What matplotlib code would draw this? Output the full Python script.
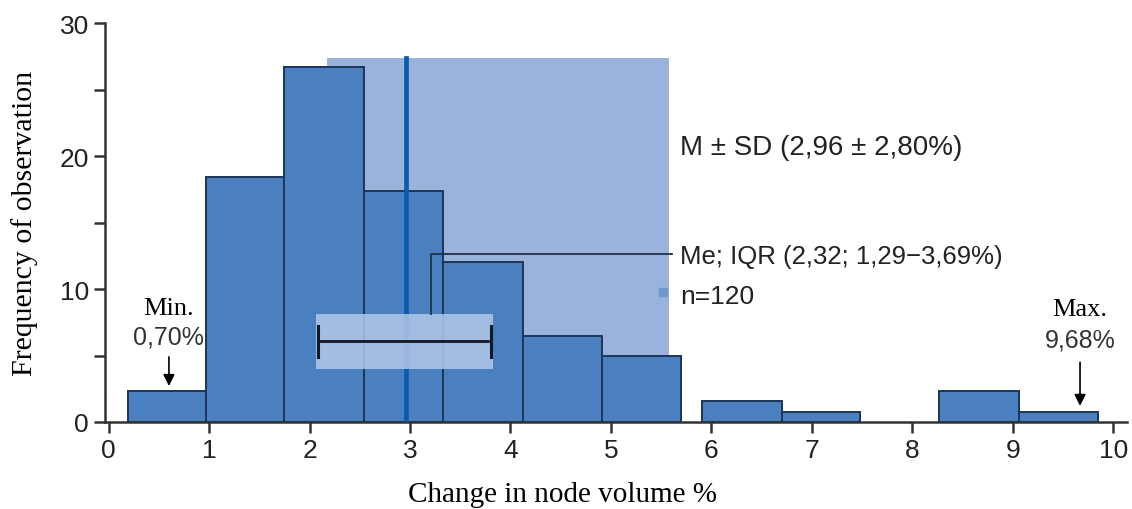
import matplotlib.pyplot as plt
from matplotlib.patches import Rectangle

# histogram bins
bin_left = [0.19, 0.97, 1.75, 2.54, 3.33, 4.12, 4.91, 5.91, 6.70, 8.27, 9.06]
bin_right = [0.97, 1.75, 2.54, 3.33, 4.12, 4.91, 5.70, 6.70, 7.48, 9.06, 9.85]
freq = [2.3, 18.4, 26.7, 17.4, 12.0, 6.5, 5.0, 1.6, 0.75, 2.3, 0.75]

mean_val = 2.96
sd_box = [2.17, 5.58, 27.4]      # left, right, top of the shaded M +- SD area
iqr_box = [2.06, 3.83, 4.0, 8.1]  # left, right, bottom, top
whisker_y = 6.1
min_val = 0.60
max_val = 9.67

xticks = [0, 1, 2, 3, 4, 5, 6, 7, 8, 9, 10]
yticks = [0, 10, 20, 30]

sans = ['Liberation Sans Narrow', 'Liberation Sans', 'DejaVu Sans']
serif = ['Liberation Serif', 'DejaVu Serif']

bar_col = '#4a80c0'
edge_col = '#1c3558'
sd_col = '#9bb3da'
iqr_col = '#b3c7e8'
mean_col = '#0b5cad'

fig = plt.figure(figsize=(11.32, 5.10), dpi=100)
ax = fig.add_axes([0.0928, 0.1706, 0.903, 0.782])

ax.add_patch(Rectangle((sd_box[0], 0), sd_box[1] - sd_box[0], sd_box[2],
                       facecolor=sd_col, edgecolor='none', zorder=1))

widths = [r - l for l, r in zip(bin_left, bin_right)]
ax.bar(bin_left, freq, width=widths, align='edge', color=bar_col,
       edgecolor=edge_col, linewidth=1.4, zorder=2)

ax.plot([mean_val, mean_val], [0, sd_box[2]], color=mean_col, lw=3.4, zorder=3)

ax.add_patch(Rectangle((iqr_box[0], iqr_box[2]), iqr_box[1] - iqr_box[0],
                       iqr_box[3] - iqr_box[2], facecolor=iqr_col, alpha=0.85,
                       edgecolor='none', zorder=4))
ax.plot([iqr_box[0] + 0.02, iqr_box[1] - 0.02], [whisker_y, whisker_y],
        color='#111827', lw=2, zorder=5)
for xc in [iqr_box[0] + 0.02, iqr_box[1] - 0.02]:
    ax.plot([xc, xc], [4.9, 7.2], color='#111827', lw=2.2, zorder=5)

# leader line to the Me; IQR label
ax.plot([3.21, 3.21, 5.61], [iqr_box[3], 12.6, 12.6], color='#1f2f4a',
        lw=1.3, zorder=5)

ax.text(5.69, 20.7, 'M ± SD (2,96 ± 2,80%)', fontsize=20, family=sans,
        va='center', ha='left', color='#222222')
ax.text(5.69, 12.5, 'Me; IQR (2,32; 1,29\u22123,69%)', fontsize=18.5, family=sans,
        va='center', ha='left', color='#222222')
ax.plot([5.52], [9.8], marker='s', ms=6, color='#6f98cf', zorder=5)
ax.text(5.69, 9.5, 'n=120', fontsize=19, family=sans, va='center', ha='left',
        color='#222222')

# min / max annotations
ax.text(min_val, 8.6, 'Min.', fontsize=19, family=serif, ha='center', va='center')
ax.text(min_val, 6.4, '0,70%', fontsize=18, family=sans, ha='center', va='center',
        color='#333333')
ax.annotate('', xy=(min_val, 2.5), xytext=(min_val, 5.1),
            arrowprops=dict(arrowstyle='-|>', color='black', lw=1.2,
                            mutation_scale=17))
ax.text(max_val, 8.5, 'Max.', fontsize=19, family=serif, ha='center', va='center')
ax.text(max_val, 6.2, '9,68%', fontsize=18, family=sans, ha='center', va='center',
        color='#333333')
ax.annotate('', xy=(max_val, 1.0), xytext=(max_val, 4.7),
            arrowprops=dict(arrowstyle='-|>', color='black', lw=1.2,
                            mutation_scale=17))

ax.set_xlim(-0.036, 10.14)
ax.set_ylim(0, 30)
ax.set_xticks(xticks)
ax.set_yticks(yticks)
ax.set_yticks([5, 15, 25], minor=True)
ax.tick_params(axis='both', which='both', direction='out', length=8, width=1.8,
               color='#333333', labelsize=19, labelcolor='#222222')
for lab in ax.get_xticklabels() + ax.get_yticklabels():
    lab.set_family(sans)

for s in ['top', 'right']:
    ax.spines[s].set_visible(False)
for s in ['left', 'bottom']:
    ax.spines[s].set_linewidth(1.8)
    ax.spines[s].set_color('#333333')

ax.set_xlabel('Change in node volume %', family=serif, fontsize=21)
ax.set_ylabel('Frequency of observation', family=serif, fontsize=21.5)
ax.xaxis.set_label_coords(0.448, -0.148)
ax.yaxis.set_label_coords(-0.066, 0.5)

plt.savefig('out.png', dpi=100)
